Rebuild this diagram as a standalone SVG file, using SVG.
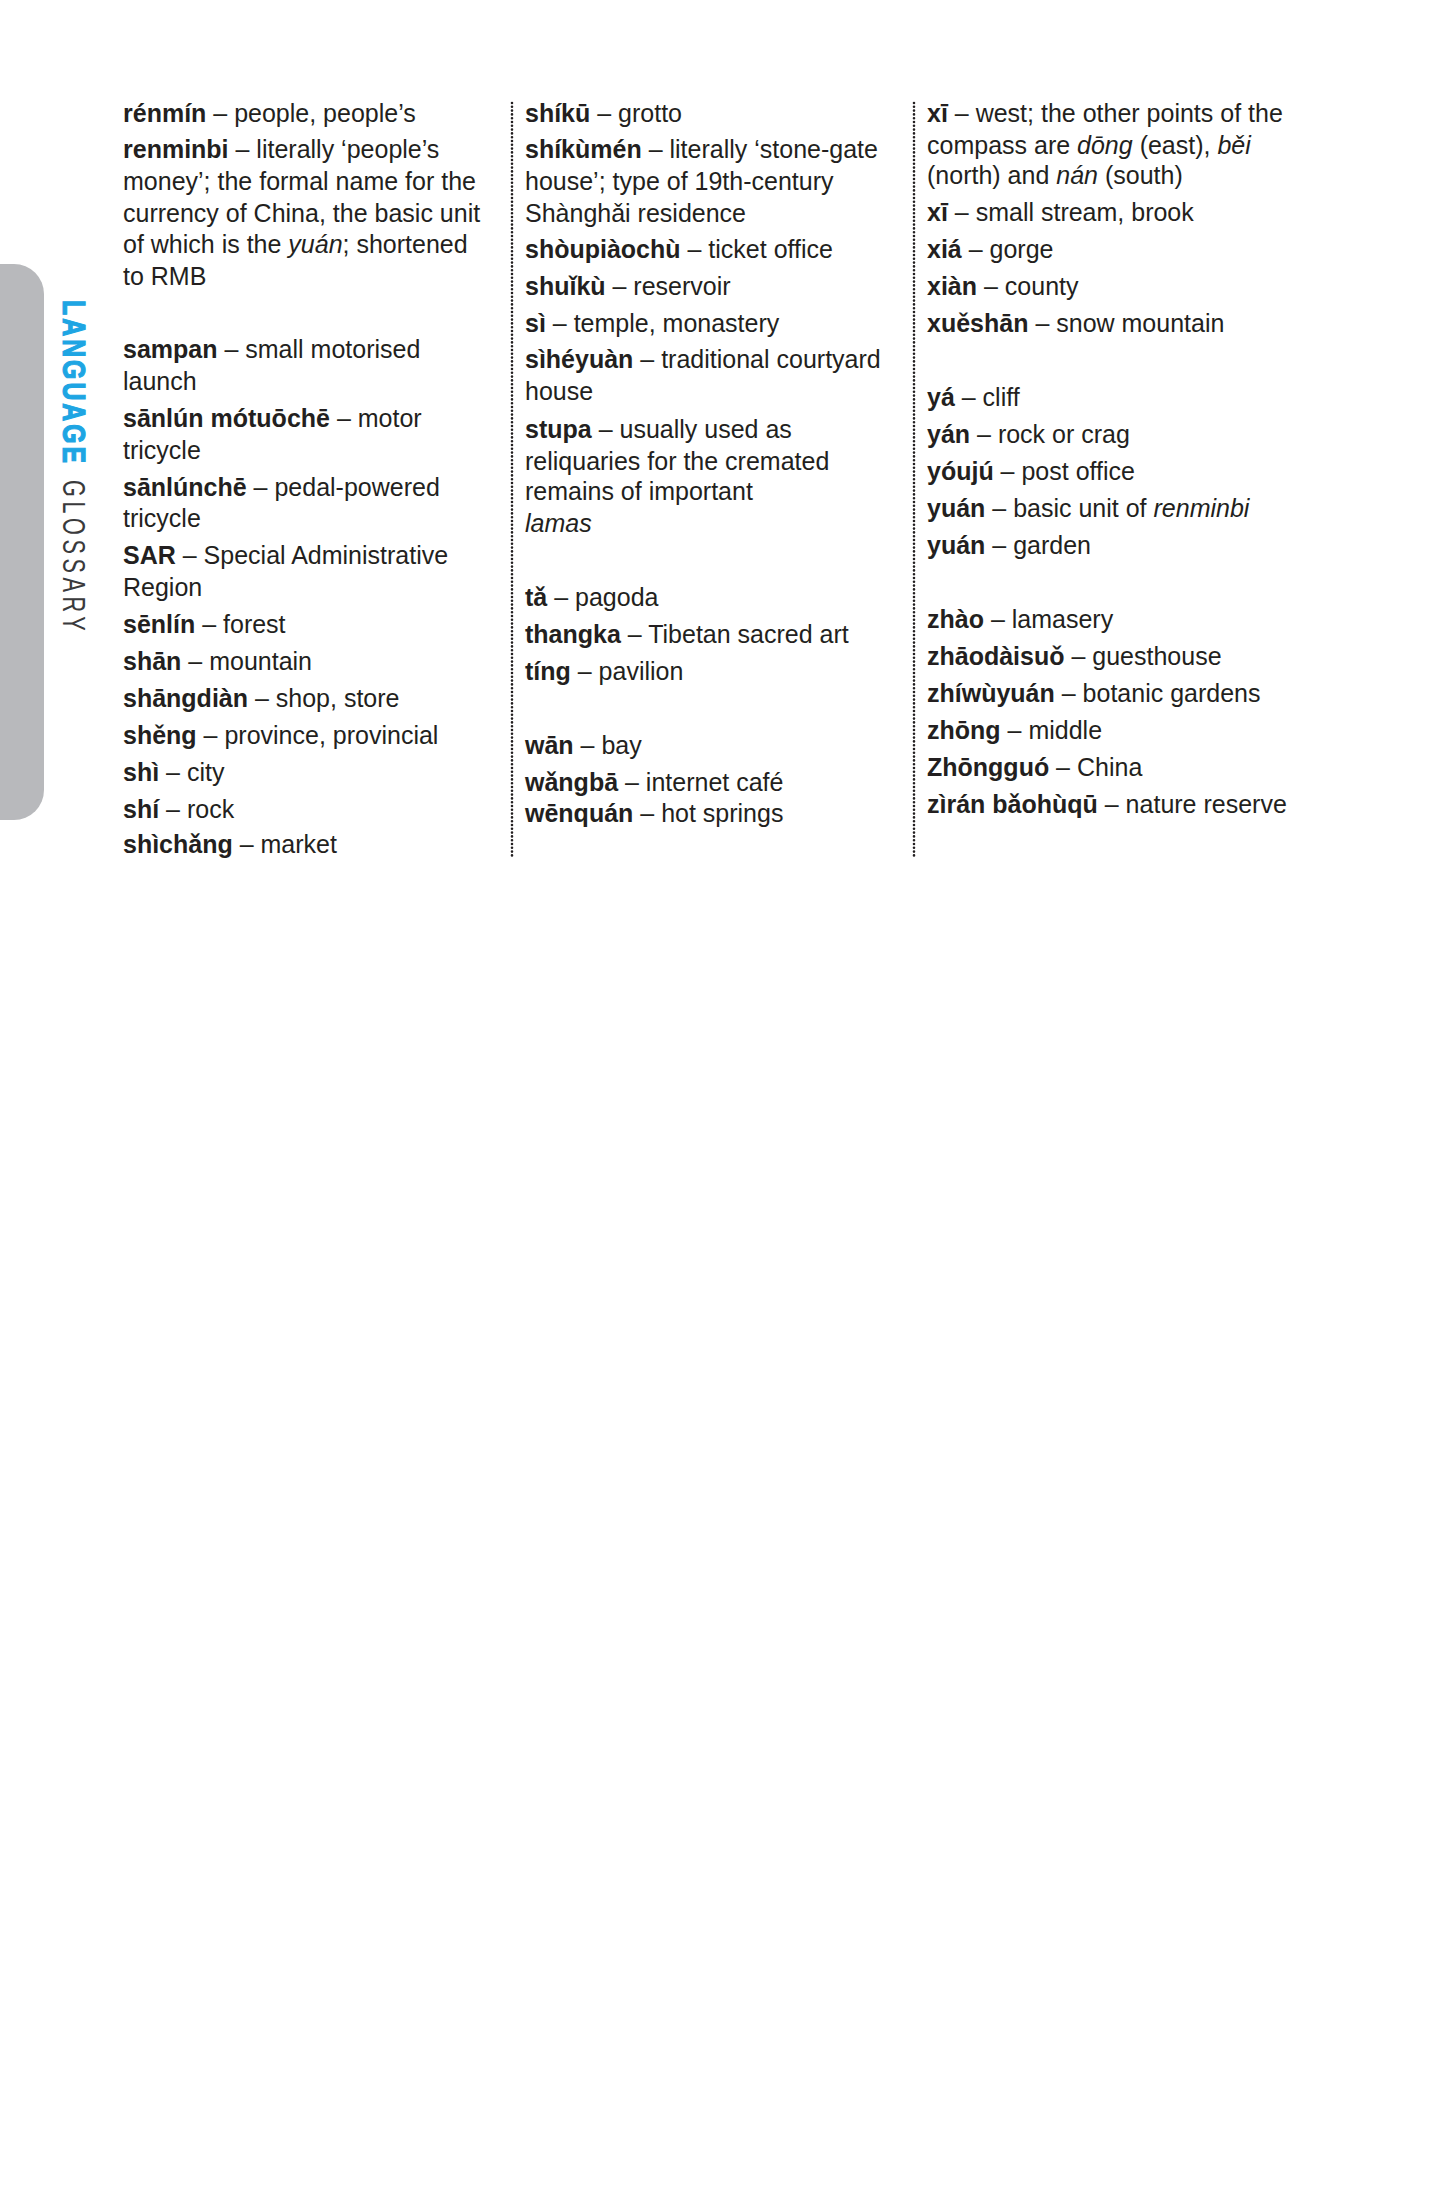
<svg xmlns="http://www.w3.org/2000/svg" width="1429" height="2200" viewBox="0 0 1429 2200">
<style>
.t{font-family:"Liberation Sans",Arial,sans-serif;font-size:25px;fill:#231f20}
.b{font-weight:bold}
.i{font-style:italic}
.dot{stroke:#231f20;stroke-width:2.6;stroke-linecap:round;stroke-dasharray:0 3.8;fill:none}
.v{font-family:"Liberation Sans",Arial,sans-serif;font-size:31px}
</style>
<rect width="1429" height="2200" fill="#ffffff"/>
<g id="tab">
<path d="M0,264 H14 A30,30 0 0 1 44,294 V790 A30,30 0 0 1 14,820 H0 Z" fill="#b8b9bc"/>
<g transform="translate(63,300) rotate(90)">
<text class="v" font-weight="bold" fill="#1ea5e3" stroke="#1ea5e3" stroke-width="1.2" transform="scale(0.8,1)" letter-spacing="3.8">LANGUAGE</text>
</g>
<g transform="translate(63,480) rotate(90)">
<text class="v" fill="#3a3a3c" transform="scale(0.7,1)" letter-spacing="6.5">GLOSSARY</text>
</g>
</g>
<g id="dividers">
<line class="dot" x1="512" y1="103" x2="512" y2="857"/>
<line class="dot" x1="914" y1="103" x2="914" y2="857"/>
</g>
<g id="col1" class="t">
<text x="123" y="122"><tspan class="b">rénmín</tspan> – people, people’s</text>
<text x="123" y="158"><tspan class="b">renminbi</tspan> – literally ‘people’s</text>
<text x="123" y="190">money’; the formal name for the</text>
<text x="123" y="222">currency of China, the basic unit</text>
<text x="123" y="253">of which is the <tspan class="i">yuán</tspan>; shortened</text>
<text x="123" y="285">to RMB</text>
<text x="123" y="358"><tspan class="b">sampan</tspan> – small motorised</text>
<text x="123" y="390">launch</text>
<text x="123" y="427"><tspan class="b">sānlún mótuōchē</tspan> – motor</text>
<text x="123" y="459">tricycle</text>
<text x="123" y="496"><tspan class="b">sānlúnchē</tspan> – pedal-powered</text>
<text x="123" y="527">tricycle</text>
<text x="123" y="564"><tspan class="b">SAR</tspan> – Special Administrative</text>
<text x="123" y="596">Region</text>
<text x="123" y="633"><tspan class="b">sēnlín</tspan> – forest</text>
<text x="123" y="670"><tspan class="b">shān</tspan> – mountain</text>
<text x="123" y="707"><tspan class="b">shāngdiàn</tspan> – shop, store</text>
<text x="123" y="744"><tspan class="b">shěng</tspan> – province, provincial</text>
<text x="123" y="781"><tspan class="b">shì</tspan> – city</text>
<text x="123" y="818"><tspan class="b">shí</tspan> – rock</text>
<text x="123" y="853"><tspan class="b">shìchǎng</tspan> – market</text>
</g>
<g id="col2" class="t">
<text x="525" y="122"><tspan class="b">shíkū</tspan> – grotto</text>
<text x="525" y="158"><tspan class="b">shíkùmén</tspan> – literally ‘stone-gate</text>
<text x="525" y="190">house’; type of 19th-century</text>
<text x="525" y="222">Shànghǎi residence</text>
<text x="525" y="258"><tspan class="b">shòupiàochù</tspan> – ticket office</text>
<text x="525" y="295"><tspan class="b">shuǐkù</tspan> – reservoir</text>
<text x="525" y="332"><tspan class="b">sì</tspan> – temple, monastery</text>
<text x="525" y="368"><tspan class="b">sìhéyuàn</tspan> – traditional courtyard</text>
<text x="525" y="400">house</text>
<text x="525" y="438"><tspan class="b">stupa</tspan> – usually used as</text>
<text x="525" y="470">reliquaries for the cremated</text>
<text x="525" y="500">remains of important</text>
<text x="525" y="532" class="i">lamas</text>
<text x="525" y="606"><tspan class="b">tǎ</tspan> – pagoda</text>
<text x="525" y="643"><tspan class="b">thangka</tspan> – Tibetan sacred art</text>
<text x="525" y="680"><tspan class="b">tíng</tspan> – pavilion</text>
<text x="525" y="754"><tspan class="b">wān</tspan> – bay</text>
<text x="525" y="791"><tspan class="b">wǎngbā</tspan> – internet café</text>
<text x="525" y="822"><tspan class="b">wēnquán</tspan> – hot springs</text>
</g>
<g id="col3" class="t">
<text x="927" y="122"><tspan class="b">xī</tspan> – west; the other points of the</text>
<text x="927" y="154">compass are <tspan class="i">dōng</tspan> (east), <tspan class="i">běi</tspan></text>
<text x="927" y="184">(north) and <tspan class="i">nán</tspan> (south)</text>
<text x="927" y="221"><tspan class="b">xī</tspan> – small stream, brook</text>
<text x="927" y="258"><tspan class="b">xiá</tspan> – gorge</text>
<text x="927" y="295"><tspan class="b">xiàn</tspan> – county</text>
<text x="927" y="332"><tspan class="b">xuěshān</tspan> – snow mountain</text>
<text x="927" y="406"><tspan class="b">yá</tspan> – cliff</text>
<text x="927" y="443"><tspan class="b">yán</tspan> – rock or crag</text>
<text x="927" y="480"><tspan class="b">yóujú</tspan> – post office</text>
<text x="927" y="517"><tspan class="b">yuán</tspan> – basic unit of <tspan class="i">renminbi</tspan></text>
<text x="927" y="554"><tspan class="b">yuán</tspan> – garden</text>
<text x="927" y="628"><tspan class="b">zhào</tspan> – lamasery</text>
<text x="927" y="665"><tspan class="b">zhāodàisuǒ</tspan> – guesthouse</text>
<text x="927" y="702"><tspan class="b">zhíwùyuán</tspan> – botanic gardens</text>
<text x="927" y="739"><tspan class="b">zhōng</tspan> – middle</text>
<text x="927" y="776"><tspan class="b">Zhōngguó</tspan> – China</text>
<text x="927" y="813"><tspan class="b">zìrán bǎohùqū</tspan> – nature reserve</text>
</g>
</svg>
